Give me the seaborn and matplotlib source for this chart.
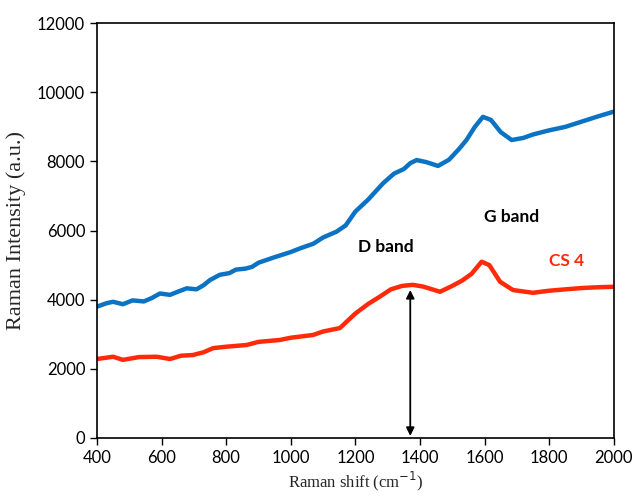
import matplotlib as mpl
mpl.use("Agg")
import matplotlib.pyplot as plt
import pandas as pd
import seaborn as sns

# values
shift_blue = [400, 430, 450, 480, 510, 545, 570, 595, 626, 650, 678, 708,
              730, 750, 780, 810, 830, 860, 880, 900, 950, 1000, 1030, 1070,
              1100, 1142, 1170, 1200, 1240, 1286, 1320, 1350, 1370, 1390,
              1420, 1456, 1490, 1520, 1544, 1570, 1595, 1620, 1650, 1684,
              1720, 1750, 1800, 1850, 1900, 1950, 2000]
blue = [3800, 3900, 3940, 3870, 3980, 3950, 4050, 4180, 4140, 4230, 4330,
        4300, 4420, 4570, 4720, 4770, 4870, 4900, 4950, 5070, 5230, 5380,
        5490, 5620, 5800, 5970, 6150, 6550, 6900, 7370, 7650, 7780, 7950,
        8040, 7980, 7870, 8050, 8350, 8620, 9000, 9290, 9200, 8850, 8620,
        8680, 8780, 8900, 9000, 9150, 9300, 9440]

shift_red = [400, 450, 480, 530, 585, 626, 660, 697, 730, 760, 800, 863,
             900, 966, 1000, 1069, 1100, 1152, 1200, 1240, 1276, 1310, 1345,
             1378, 1410, 1462, 1500, 1530, 1560, 1591, 1615, 1648, 1688,
             1750, 1800, 1850, 1905, 1950, 2000]
red = [2285, 2350, 2260, 2340, 2350, 2285, 2380, 2400, 2480, 2600, 2640,
       2690, 2780, 2835, 2900, 2980, 3080, 3180, 3600, 3880, 4090, 4300,
       4400, 4430, 4380, 4230, 4400, 4550, 4750, 5100, 5000, 4520, 4280,
       4200, 4260, 4300, 4340, 4360, 4375]

xticks = [400, 600, 800, 1000, 1200, 1400, 1600, 1800, 2000]
yticks = [0, 2000, 4000, 6000, 8000, 10000, 12000]

df = pd.concat([
    pd.DataFrame({"shift": shift_blue, "intensity": blue, "sample": "top"}),
    pd.DataFrame({"shift": shift_red, "intensity": red, "sample": "CS 4"}),
], ignore_index=True)

sns.set_style("ticks")
plt.rcParams["font.family"] = ["Lato", "DejaVu Sans"]

fig = plt.figure(figsize=(6.34, 5.04), dpi=100)
ax = fig.add_axes([0.153, 0.131, 0.815, 0.823])

sns.lineplot(data=df, x="shift", y="intensity", hue="sample",
             palette={"top": "#0c72c4", "CS 4": "#ff2a0a"},
             linewidth=3.2, legend=False, ax=ax)

ax.set_xlim(400, 2000)
ax.set_ylim(0, 12000)
ax.set_xticks(xticks)
ax.set_yticks(yticks)
ax.tick_params(labelsize=12, length=5, width=1, color="black",
               labelcolor="black", direction="out")
for s in ax.spines.values():
    s.set_color("black")
    s.set_linewidth(1.2)

ax.set_xlabel("Raman shift (cm$^{-1}$)", family="Liberation Serif",
              fontsize=12, labelpad=3)
ax.set_ylabel("Raman Intensity (a.u.)", family="Liberation Serif",
              fontsize=16, labelpad=8)

ax.annotate("", xy=(1370, 60), xytext=(1370, 4280),
            arrowprops=dict(arrowstyle="<|-|>", color="black", lw=1.3,
                            mutation_scale=12, shrinkA=0, shrinkB=0))

ax.text(1295, 5530, "D band", ha="center", va="center", fontsize=12.5,
        fontweight="bold", color="black")
ax.text(1684, 6390, "G band", ha="center", va="center", fontsize=12.5,
        fontweight="bold", color="black")
ax.text(1855, 5120, "CS 4", ha="center", va="center", fontsize=12.5,
        fontweight="bold", color="#ff2a0a")

fig.savefig("out.png", dpi=100)
